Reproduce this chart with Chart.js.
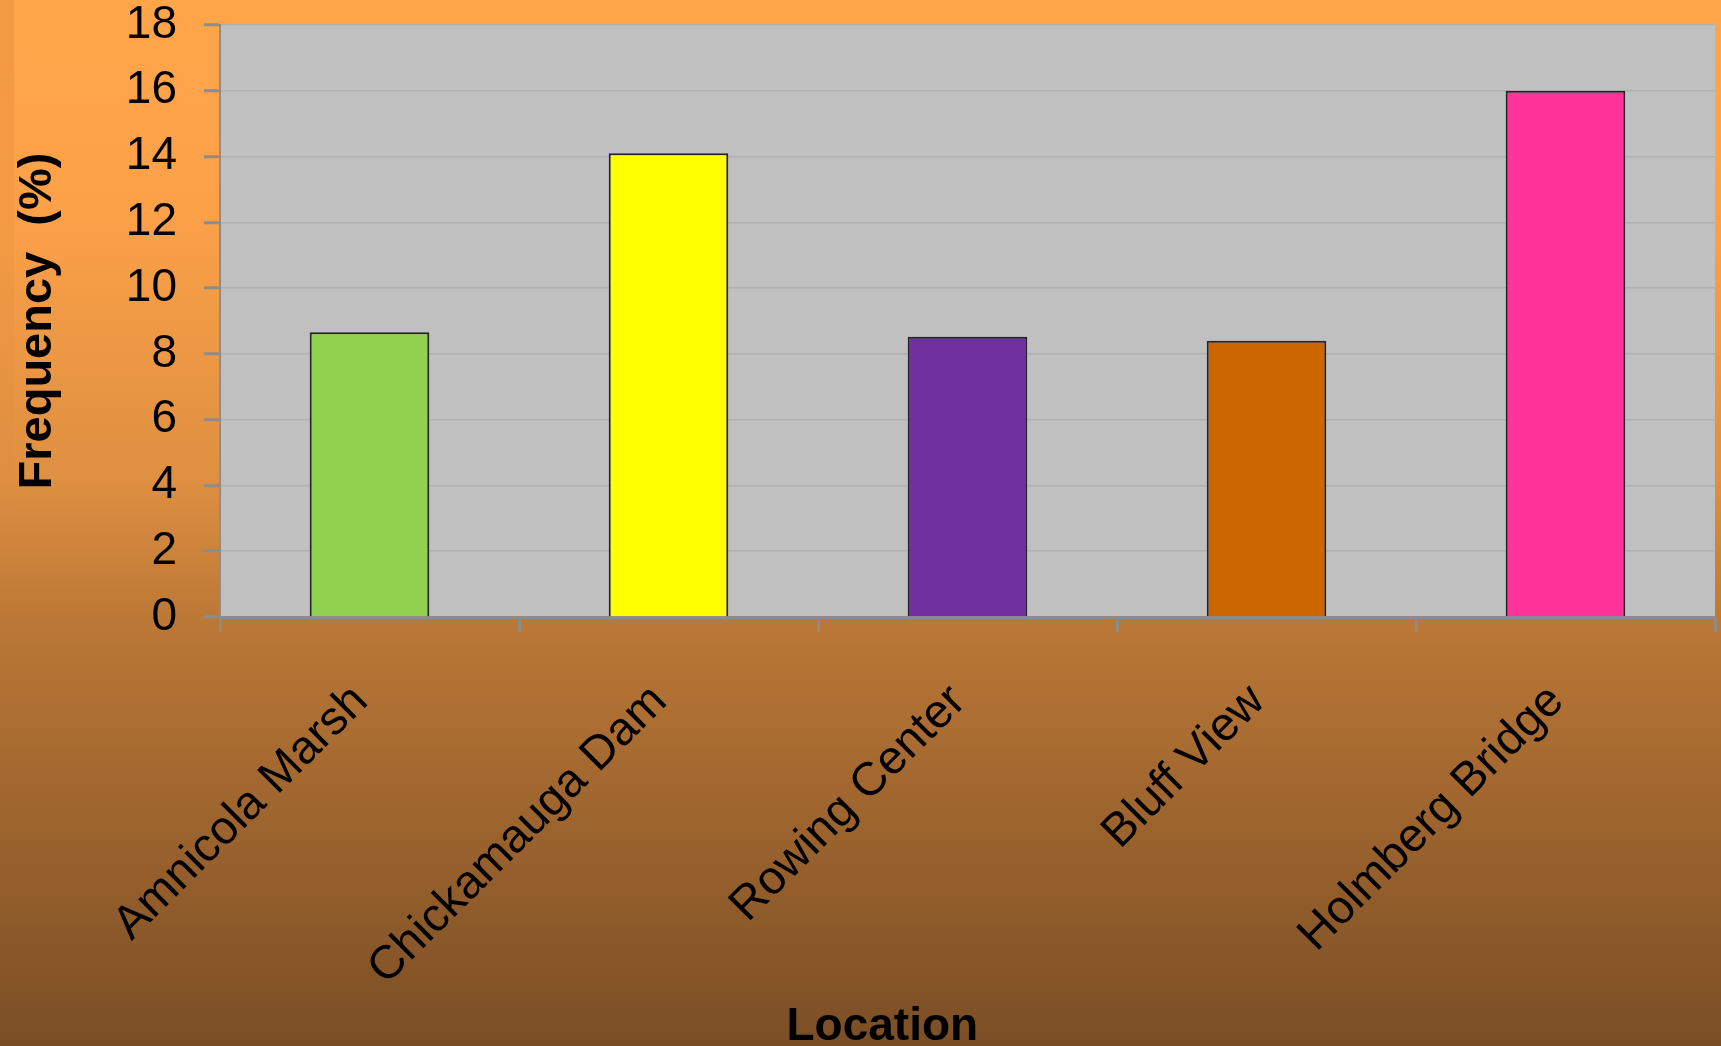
<!DOCTYPE html>
<html>
<head>
<meta charset="utf-8">
<script src="https://cdn.jsdelivr.net/npm/chart.js@4/dist/chart.umd.min.js"></script>
<style>
  html, body { margin: 0; padding: 0; background: #7a4e25; overflow: hidden; }
  #chart { display: block; }
</style>
</head>
<body>
<canvas id="chart" width="1721" height="1046" style="width:1721px;height:1046px"></canvas>
<script>
// ===== Data =====
const locations = ["Amnicola Marsh", "Chickamauga Dam", "Rowing Center", "Bluff View", "Holmberg Bridge"];
const frequency = [8.66, 14.1, 8.52, 8.4, 16.0];
const barColors = ["#92D050", "#FFFF00", "#7030A0", "#CC6600", "#FF3399"];
const yMin = 0, yMax = 18, yStep = 2;

const FONT = "'Liberation Sans', Arial, sans-serif";

// ===== Slide-like background + grey plot area =====
const backdrop = {
  id: "backdrop",
  beforeDraw(chart) {
    const { ctx, width, height, chartArea } = chart;
    ctx.save();
    const g = ctx.createLinearGradient(0, 0, 0, height);
    g.addColorStop(0, "#FFA54A");
    g.addColorStop(0.2, "#FCA148");
    g.addColorStop(0.46, "#DE8F41");
    g.addColorStop(0.59, "#BC7836");
    g.addColorStop(1, "#7A4E25");
    ctx.fillStyle = g;
    ctx.fillRect(0, 0, width, height);
    // faint darker strip on the left edge, fading out downwards
    const s = ctx.createLinearGradient(0, 0, 0, height * 0.5);
    s.addColorStop(0, "rgba(150,80,20,0.12)");
    s.addColorStop(1, "rgba(150,80,20,0)");
    ctx.fillStyle = s;
    ctx.fillRect(0, 0, 14, height * 0.5);
    ctx.fillStyle = "#C0C0C0";
    ctx.fillRect(chartArea.left, chartArea.top, chartArea.width, chartArea.height);
    ctx.restore();
  }
};

// ===== X axis title (sits a bit left of centre in the original) =====
const xTitle = {
  id: "xTitle",
  afterDraw(chart) {
    const { ctx, chartArea, height } = chart;
    ctx.save();
    ctx.font = "bold 46px " + FONT;
    ctx.fillStyle = "#000";
    ctx.textAlign = "center";
    ctx.textBaseline = "alphabetic";
    ctx.fillText("Location", chartArea.left + chartArea.width * 0.443, height - 6);
    ctx.restore();
  }
};

new Chart(document.getElementById("chart"), {
  type: "bar",
  data: {
    labels: locations,
    datasets: [{
      data: frequency,
      backgroundColor: barColors,
      borderColor: "#222",
      borderWidth: 2,
      borderSkipped: "bottom",
      barPercentage: 0.4,
      categoryPercentage: 1.0
    }]
  },
  options: {
    responsive: false,
    animation: false,
    layout: { padding: { top: 0, right: 6, left: 0, bottom: 0 } },
    plugins: {
      legend: { display: false },
      tooltip: { enabled: false }
    },
    scales: {
      x: {
        afterFit: s => { s.height = 429; },
        grid: {
          drawOnChartArea: false,
          offset: true,
          tickLength: 15,
          tickColor: "#8C8C8C",
          tickWidth: 3
        },
        border: { color: "#8C8C8C", width: 3 },
        ticks: {
          autoSkip: false,
          minRotation: 45,
          maxRotation: 45,
          padding: 42,
          labelOffset: -9,
          color: "#000",
          font: { family: FONT, size: 47 }
        }
      },
      y: {
        min: yMin,
        max: yMax,
        afterFit: s => {
          s.width = 220;
          s.paddingTop = 25;   // plot starts right under the top edge
          s.paddingBottom = 0;
        },
        grid: {
          color: "#B0B0B0",
          lineWidth: 1.5,
          tickLength: 16,
          tickColor: "#8C8C8C",
          tickWidth: 3
        },
        border: { color: "#8C8C8C", width: 2 },
        ticks: {
          stepSize: yStep,
          padding: 27,
          color: "#000",
          font: { family: FONT, size: 46 }
        },
        title: {
          display: true,
          text: "Frequency  (%)",
          color: "#000",
          padding: { top: 10, bottom: 0 },
          font: { family: FONT, size: 47, weight: "bold" }
        }
      }
    }
  },
  plugins: [backdrop, xTitle]
});
</script>
</body>
</html>
